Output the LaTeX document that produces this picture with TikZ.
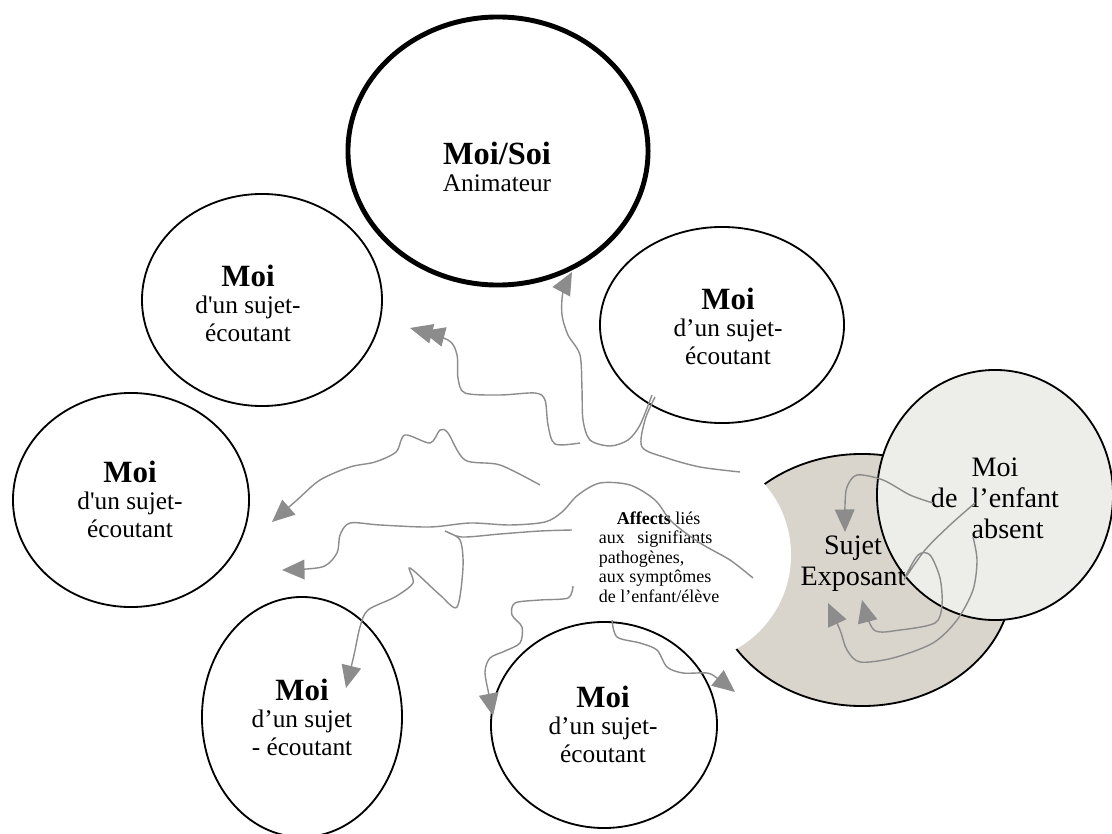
\documentclass[tikz,border=0pt]{standalone}
\usepackage{fontspec}
\setmainfont{Liberation Serif}
\usetikzlibrary{shapes.geometric,arrows.meta}
\definecolor{gristrait}{RGB}{140,140,140}
\definecolor{grisfond}{RGB}{217,213,204}
\definecolor{grisclair}{RGB}{237,237,234}
\newcommand{\gros}[1]{{\fontsize{22}{24}\selectfont\bfseries #1}}

\begin{document}
\begin{tikzpicture}[x=0.025cm,y=-0.025cm]

% définition des styles
\tikzstyle{bulle}=[ellipse,draw,line width=1.3pt,inner sep=0pt]
\tikzstyle{texte}=[align=center,font=\fontsize{18}{19.5}\selectfont]
\tikzstyle{trait}=[gristrait,line width=1pt]
\tikzstyle{pointe}=[trait,-{Triangle[length=16pt,width=14pt]}]
\tikzstyle{double}=[trait,-{Triangle[length=16pt,width=14pt,sep=-7pt]Triangle[length=16pt,width=14pt]}]

\clip (0,0) rectangle (1112,834);

% le sujet exposant et l'enfant absent
\node [bulle,fill=grisfond,minimum width=7.5cm,minimum height=6.3cm] (sujet) at (862,580) {};
\node [circle,fill=white,minimum size=5.4cm] (creux) at (683,555) {};
\node [bulle,fill=grisclair,minimum width=5.9cm,minimum height=6.25cm] (enfant) at (995,495) {};

% les ellipses
\node [bulle,line width=3.5pt,minimum width=7.5cm,minimum height=6.7cm] (soi) at (498,151) {};
\node [bulle,minimum width=6cm,minimum height=5.3cm] (m1) at (262,300) {};
\node [bulle,minimum width=6.1cm,minimum height=4.9cm] (m2) at (722,325) {};
\node [bulle,minimum width=5.9cm,minimum height=5.35cm] (m3) at (131,500) {};
\node [bulle,minimum width=5cm,minimum height=6cm] (m4) at (302,717) {};
\node [bulle,minimum width=5.65cm,minimum height=5.15cm] (m5) at (604,725) {};

% les textes
\node [texte] (soitxt) at (497,167) {{\fontsize{23}{25}\selectfont\bfseries Moi/Soi}\\Animateur};
\node [texte] (m1txt) at (248,303) {\gros{Moi}\\d\textquotesingle un sujet-\\écoutant};
\node [texte] (m2txt) at (728,326) {\gros{Moi}\\d’un sujet-\\écoutant};
\node [texte] (m3txt) at (130,499) {\gros{Moi}\\d\textquotesingle un sujet-\\écoutant};
\node [texte] (m4txt) at (302,717) {\gros{Moi}\\d’un sujet\\- écoutant};
\node [texte] (m5txt) at (603,724) {\gros{Moi}\\d’un sujet-\\écoutant};
\node [texte,font=\fontsize{20}{22}\selectfont] (sujettxt) at (853,564) {Sujet\\Exposant};
\node [texte,font=\fontsize{20}{22}\selectfont] (enfanttxt) at (995,498) {Moi\\de\ \ l’enfant\\\hspace*{0.9em}absent};
\node [align=left,font=\fontsize{12.8}{13.8}\selectfont] (affects) at (659,557)
  {\hspace*{1em}\textbf{Affects} liés\\aux\hspace{0.7em}signifiants\\pathogènes,\\aux symptômes\\de l’enfant/élève};

% les traits ondulés
\draw[pointe] plot[smooth] coordinates {(652,395) (640,425) (628,440) (610,446) (590,440) (583,420) (582,390) (580,355) (568,335) (562,315) (563,292) (572,272)};
\draw[double] plot[smooth] coordinates {(580,443) (555,444) (548,425) (545,400) (535,393) (500,395) (465,393) (458,378) (457,355) (448,340) (410,328)};
\draw[trait] plot[smooth] coordinates {(655,397) (645,420) (642,447) (667,458) (700,467) (740,472)};
\draw[pointe] plot[smooth] coordinates {(540,485) (500,465) (465,460) (448,433) (440,430) (430,443) (405,435) (396,452) (375,462) (350,467) (320,480) (297,500) (272,522)};
\draw[pointe] plot[smooth] coordinates {(753,578) (730,560) (700,543) (672,522) (655,500) (630,485) (600,483) (578,495) (562,512) (545,522) (510,525) (470,523) (430,527) (380,525) (350,523) (340,535) (337,553) (322,567) (282,570)};
\draw[pointe] plot[smooth] coordinates {(572,530) (540,531) (500,534) (462,537) (445,531) (460,540) (463,567) (457,607) (440,595) (410,568) (413,583) (395,597) (368,610) (360,627) (354,655) (346,688)};
\draw[pointe] plot[smooth] coordinates {(573,586) (568,598) (540,600) (515,603) (512,615) (522,627) (520,643) (505,651) (490,658) (485,672) (489,695) (493,716)};
\draw[pointe] plot[smooth] coordinates {(612,620) (617,637) (640,643) (657,650) (667,667) (683,673) (707,673) (717,678) (735,692)};
\draw[pointe] plot[smooth] coordinates {(933,503) (910,495) (883,480) (857,475) (847,487) (845,505) (845,532)};
\draw[pointe] plot[smooth] coordinates {(973,537) (977,560) (973,590) (957,620) (933,643) (893,658) (860,662) (847,650) (840,630) (828,603)};
\draw[pointe] plot[smooth] coordinates {(975,503) (950,525) (925,550) (905,578) (918,555) (930,555) (940,578) (942,605) (935,623) (900,630) (874,630) (862,600)};

\end{tikzpicture}
\end{document}
